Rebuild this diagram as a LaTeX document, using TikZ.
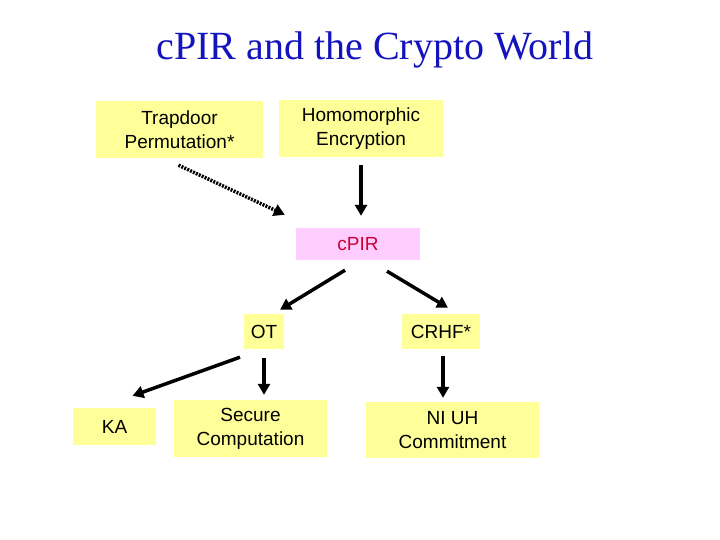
\documentclass[tikz,border=0pt]{standalone}
\usepackage{fontspec}
\setmainfont{Liberation Sans}
\newfontfamily\titlefont{Liberation Serif}
\usetikzlibrary{arrows.meta,calc}
\definecolor{boxyellow}{RGB}{255,255,153}
\definecolor{boxpink}{RGB}{255,204,255}
\definecolor{pirred}{RGB}{204,0,51}
\definecolor{titleblue}{RGB}{20,20,190}
\tikzset{
  ybox/.style={fill=boxyellow,draw=none,inner sep=0pt,align=center,
    font=\fontsize{19}{24}\selectfont},
  pbox/.style={fill=boxpink,draw=none,inner sep=0pt,align=center,
    text=pirred,font=\fontsize{19}{24}\selectfont},
  arr/.style={line width=3.5pt,-{Triangle[length=11pt,width=12pt]}},
  darr/.style={arr,dash pattern=on 2pt off 1.2pt}
}
\begin{document}
\begin{tikzpicture}[x=1pt,y=-1pt]
\useasboundingbox (0,0) rectangle (720,540);
\node[text=titleblue,font=\titlefont\fontsize{40}{48}\selectfont,inner sep=0pt] (title) at (375,50) {cPIR and the Crypto World};
\node[ybox,minimum width=167pt,minimum height=57pt] (trap) at (179.5,129.5) {Trapdoor\\Permutation*};
\node[ybox,minimum width=164pt,minimum height=57pt] (homo) at (361,128.5) {Homomorphic\\Encryption};
\node[pbox,minimum width=124pt,minimum height=32pt] (pir) at (358,244) {cPIR};
\node[ybox,minimum width=40pt,minimum height=35pt] (ot) at (264,331.5) {OT};
\node[ybox,minimum width=78pt,minimum height=35pt] (crhf) at (441,331.5) {CRHF*};
\node[ybox,minimum width=83pt,minimum height=37pt] (ka) at (114.5,426.5) {KA};
\node[ybox,minimum width=153pt,minimum height=57pt] (sec) at (250.5,428.5) {Secure\\Computation};
\node[ybox,minimum width=173pt,minimum height=56pt] (ni) at (452.5,430) {NI UH\\Commitment};
\draw[darr] ($(trap.south)+(-1,7)$) -- ($(pir.north west)+(-11,-13)$);
\draw[arr] ($(homo.south)+(0,8)$) -- ($(pir.north)+(3,-12)$);
\draw[arr] ($(pir.south)+(-13,10)$) -- ($(ot.north)+(16,-4)$);
\draw[arr] ($(pir.south)+(29,11)$) -- ($(crhf.north)+(7,-6)$);
\draw[arr] ($(ot.south)+(-24,8)$) -- ($(ka.north)+(18,-12)$);
\draw[arr] ($(ot.south)+(0,9)$) -- ($(sec.north)+(13.5,-5)$);
\draw[arr] ($(crhf.south)+(2,7)$) -- ($(ni.north)+(-9.5,-4)$);
\end{tikzpicture}
\end{document}
